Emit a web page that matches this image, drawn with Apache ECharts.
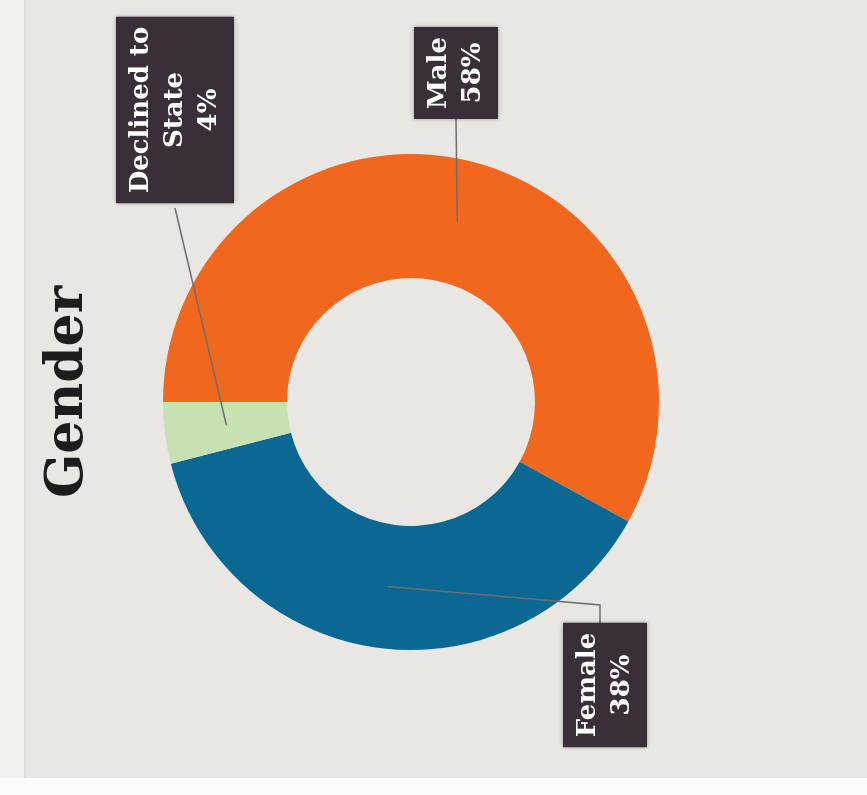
<!DOCTYPE html>
<html><head><meta charset="utf-8">
<script src="https://cdn.jsdelivr.net/npm/echarts@6/dist/echarts.min.js"></script>
<style>html,body{margin:0;padding:0;background:#e8e7e3}#c{width:867px;height:795px}</style>
</head><body><div id="c"></div>
<script>
const categories = ['Male', 'Female', 'Declined to State'];
const labelLines = ['Male', 'Female', 'Declined to\nState'];
const values = [58, 38, 4];
const colors = ['#f1671d', '#0b6893', '#c8e1b2'];
const titleText = 'Gender';

const W = 867, H = 795;
const CX = 411, CY = 402, R_OUT = 248, R_IN = 124;
// label box centres and elbow points (layout only)
const labelPos = [[456, 73], [605, 685], [175, 110]];
const elbow = [null, [600, 605], null];
const labelEdge = [[456, 118], [600, 627], [175, 208]];

const total = values.reduce((a, b) => a + b, 0);
const START = 180;
function midPoint(i) {
  let acc = 0;
  for (let k = 0; k < i; k++) acc += values[k];
  const a = (START - (acc + values[i] / 2) / total * 360) * Math.PI / 180;
  const rr = (R_OUT + R_IN) / 2;
  return [CX + rr * Math.cos(a), CY - rr * Math.sin(a)];
}

const base = {
  type: 'pie',
  center: [CX, CY],
  radius: [R_IN, R_OUT],
  startAngle: START,
  clockwise: true,
  emphasis: {disabled: true},
  silent: true
};

const chart = echarts.init(document.getElementById('c'), null, {renderer: 'canvas'});
chart.setOption({
  backgroundColor: '#e8e7e3',
  animation: false,
  graphic: [
    {type: 'rect', shape: {x: 0, y: 0, width: 24, height: H}, style: {fill: '#f1f0ed'}, z: -1},
    {type: 'rect', shape: {x: 24, y: 0, width: 2, height: 778}, style: {fill: '#dcdbd7'}, z: -1},
    {type: 'rect', shape: {x: 0, y: 778, width: W, height: H - 778}, style: {fill: '#fbfbfa'}, z: -1},
    {type: 'text', x: 68, y: 392, rotation: Math.PI / 2,
      style: {text: titleText, font: 'bold 52px "DejaVu Serif"', fill: '#1d1d1d', textAlign: 'center', textVerticalAlign: 'middle'}}
  ],
  series: [
    Object.assign({}, base, {
      z: 2,
      data: categories.map((c, i) => ({name: c, value: values[i], itemStyle: {color: colors[i]}})),
      label: {show: false},
      labelLine: {show: false}
    }),
    Object.assign({}, base, {
      z: 5,
      data: categories.map((c, i) => ({name: c, value: values[i], itemStyle: {color: 'rgba(0,0,0,0)'}})),
      label: {
        show: true,
        rotate: 90,
        formatter: p => labelLines[p.dataIndex] + '\n' + values[p.dataIndex] + '%',
        color: '#ffffff',
        fontFamily: 'DejaVu Serif',
        fontWeight: 'bold',
        fontSize: 26,
        lineHeight: 34,
        align: 'center',
        verticalAlign: 'middle',
        backgroundColor: '#3a2f38',
        padding: [8, 10, 8, 10],
        shadowColor: 'rgba(0,0,0,0.35)',
        shadowBlur: 4
      },
      labelLine: {show: true, lineStyle: {color: '#6e6e6e', width: 1.5}},
      labelLayout: function (p) {
        const i = p.dataIndex;
        const s = midPoint(i);
        const pts = [s, elbow[i] || labelEdge[i], labelEdge[i]];
        return {x: labelPos[i][0], y: labelPos[i][1], align: 'center', verticalAlign: 'middle', labelLinePoints: pts};
      }
    })
  ]
});
</script></body></html>
